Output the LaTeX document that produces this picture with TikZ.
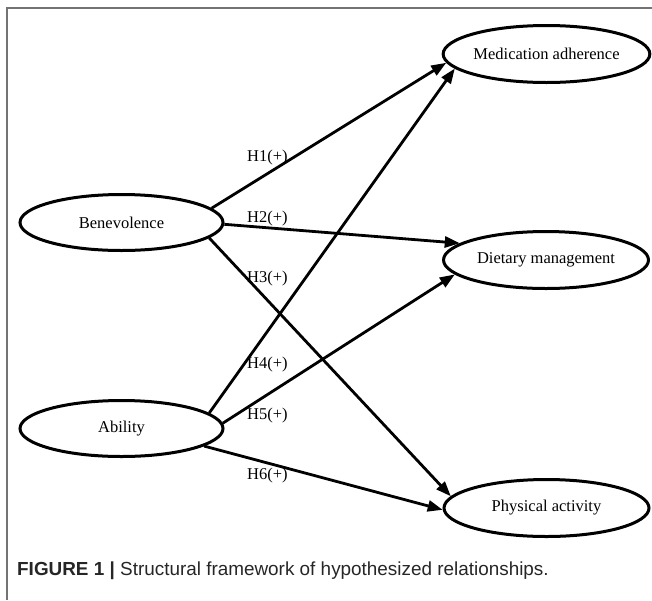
\documentclass[tikz,border=0pt]{standalone}
\usepackage{fontspec}
\setmainfont{Liberation Serif}
\newfontfamily\capfont{Liberation Sans}
\usetikzlibrary{shapes.geometric,arrows.meta}
\begin{document}
\begin{tikzpicture}[x=1pt,y=1pt,
  var/.style={ellipse,draw,line width=3pt,inner sep=0pt,minimum width=203pt,minimum height=56pt,font=\fontsize{16.5}{18}\selectfont},
  varr/.style={var,minimum width=205pt,minimum height=57pt},
  hyp/.style={line width=2.8pt,-{Triangle[length=15pt,width=11pt]}},
  lab/.style={anchor=west,inner sep=0pt,font=\fontsize{16.5}{18}\selectfont},
  frame/.style={draw=black!55,line width=1.5pt}]
\useasboundingbox (0,0) rectangle (652,-600);
\draw[frame] (7,-600) -- (7,-8) -- (652,-8);
% nodes
\node[var]  (ben) at (121.5,-222.5) {Benevolence};
\node[var]  (abi) at (121.5,-428.5) {Ability};
\node[varr] (med) at (546.5,-54)    {Medication adherence};
\node[varr] (die) at (546,-260)     {Dietary management};
\node[varr] (phy) at (546.5,-508)   {Physical activity};
% paths
\draw[hyp] (ben.9.5)   -- (med.185.2);
\draw[hyp] (ben.-1.4)  -- (die.169.2);
\draw[hyp] (ben.-10.3) -- (phy.173.8);
\draw[hyp] (abi.10.9)  -- (med.189.3);
\draw[hyp] (abi.3.1)   -- (die.189.4);
\draw[hyp] (abi.-12)   -- (phy.181.1);
% labels
\node[lab] (l1) at (247,-158) {H1(+)};
\node[lab] (l2) at (247,-219) {H2(+)};
\node[lab] (l3) at (247,-279) {H3(+)};
\node[lab] (l4) at (247,-365) {H4(+)};
\node[lab] (l5) at (247,-416) {H5(+)};
\node[lab] (l6) at (247,-476) {H6(+)};
% caption
\node[anchor=base west,inner sep=0pt,font=\capfont\fontsize{18.9}{22}\selectfont,text=black!85] (cap) at (17,-575)
  {\textbf{FIGURE 1} \textbf{|} Structural framework of hypothesized relationships.};
\end{tikzpicture}
\end{document}
